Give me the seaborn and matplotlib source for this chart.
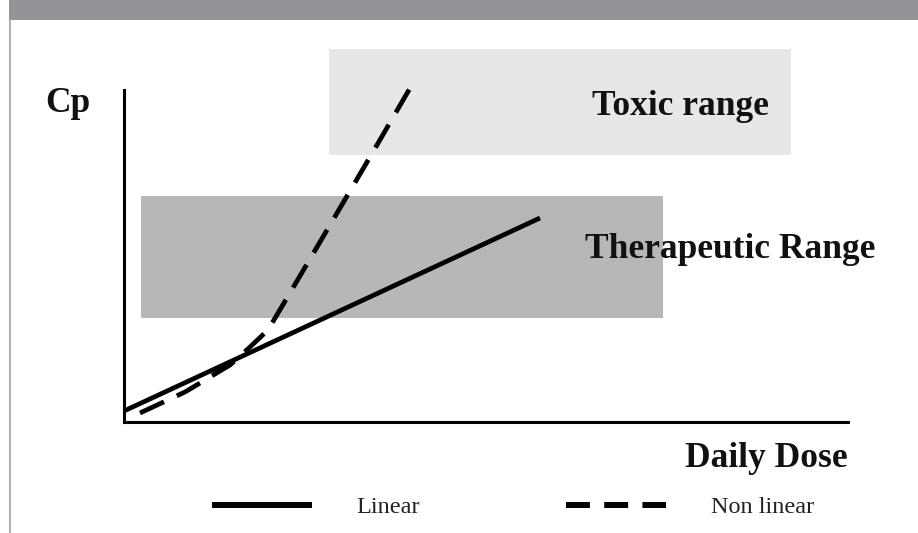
import matplotlib
matplotlib.use("Agg")
import matplotlib.pyplot as plt
import seaborn as sns
import pandas as pd
from matplotlib.lines import Line2D
from matplotlib.patches import Rectangle

# ---------------- data (arbitrary dose / concentration units) ----------------
linear_dose = [0, 416]
linear_cp = [11, 204]

nonlinear_dose = [16, 61, 106, 126, 144, 196, 246, 289]
nonlinear_cp = [9, 30, 57, 75, 92, 180, 265, 339]

therapeutic_dose = [17, 539]
therapeutic_low, therapeutic_high = 104, 226
toxic_dose = [205, 667]
toxic_low, toxic_high = 267, 373

series_names = ["Linear", "Non linear"]
range_labels = ["Toxic range", "Therapeutic Range"]
axis_labels = ["Cp", "Daily Dose"]

# ---------------- figure ----------------
sns.set_theme(style="white")
plt.rcParams["font.family"] = ["Liberation Serif", "DejaVu Serif"]

W, H = 918, 533
fig = plt.figure(figsize=(W / 100, H / 100), dpi=100)
fig.patch.set_facecolor("white")

# top banner and left border
fig.patches.append(Rectangle((9 / W, 1 - 20 / H), 1 - 9 / W, 20 / H,
                             transform=fig.transFigure, facecolor="#939498",
                             edgecolor="none", zorder=0))
fig.add_artist(Line2D([10 / W, 10 / W], [0, 1 - 20 / H], transform=fig.transFigure,
                      color="#b3b3b3", lw=1.5))

ax = fig.add_axes([124 / W, (H - 422) / H, 724 / W, (422 - 40) / H])
ax.set_xlim(0, 724)
ax.set_ylim(0, 382)
ax.patch.set_alpha(0)

# ranges
ax.fill_between(therapeutic_dose, therapeutic_low, therapeutic_high,
                color="#b6b7b9", linewidth=0, zorder=1)
ax.fill_between(toxic_dose, toxic_low, toxic_high,
                color="#e6e7e8", linewidth=0, zorder=1)

df = pd.concat([
    pd.DataFrame({"dose": linear_dose, "cp": linear_cp, "model": series_names[0]}),
    pd.DataFrame({"dose": nonlinear_dose, "cp": nonlinear_cp, "model": series_names[1]}),
])
sns.lineplot(data=df, x="dose", y="cp", hue="model", style="model",
             palette={series_names[0]: "black", series_names[1]: "black"},
             dashes={series_names[0]: "", series_names[1]: (5.6, 3.0)},
             linewidth=3.4, sort=False, legend=False, ax=ax, zorder=3)
for ln in ax.get_lines():
    ln.set_solid_capstyle("butt")
    ln.set_dash_capstyle("butt")

# axes styling
for s in ["top", "right"]:
    ax.spines[s].set_visible(False)
for s in ["left", "bottom"]:
    ax.spines[s].set_color("black")
    ax.spines[s].set_linewidth(2.2)
    ax.spines[s].set_zorder(4)
ax.spines["left"].set_bounds(0, 332)
ax.set_xticks([])
ax.set_yticks([])
ax.set_xlabel("")
ax.set_ylabel("")

fs_big = 25.5
ax.text(468, 307, range_labels[0], fontsize=fs_big, fontweight="bold",
        ha="left", va="baseline", color="#111111", zorder=5)
ax.text(461, 164, range_labels[1], fontsize=fs_big, fontweight="bold",
        ha="left", va="baseline", color="#111111", zorder=5, clip_on=False)
ax.text(-79, 310, axis_labels[0], fontsize=fs_big, fontweight="bold",
        ha="left", va="baseline", color="#111111", clip_on=False)
ax.text(724, -45, axis_labels[1], fontsize=fs_big, fontweight="bold",
        ha="right", va="baseline", color="#111111", clip_on=False)

# legend
handles = [
    Line2D([], [], color="black", lw=4.3, solid_capstyle="butt"),
    Line2D([], [], color="black", lw=4.3, dashes=(4, 2.4), dash_capstyle="butt"),
]
leg = fig.legend(handles, series_names, loc="center left",
                 bbox_to_anchor=(212 / W, 1 - 507 / H), bbox_transform=fig.transFigure,
                 ncol=2, frameon=False, fontsize=17.5, handlelength=4.1,
                 handletextpad=1.85, columnspacing=6.0, borderpad=0,
                 borderaxespad=0)
for t in leg.get_texts():
    t.set_color("#222222")

fig.savefig("out.png", dpi=100)
